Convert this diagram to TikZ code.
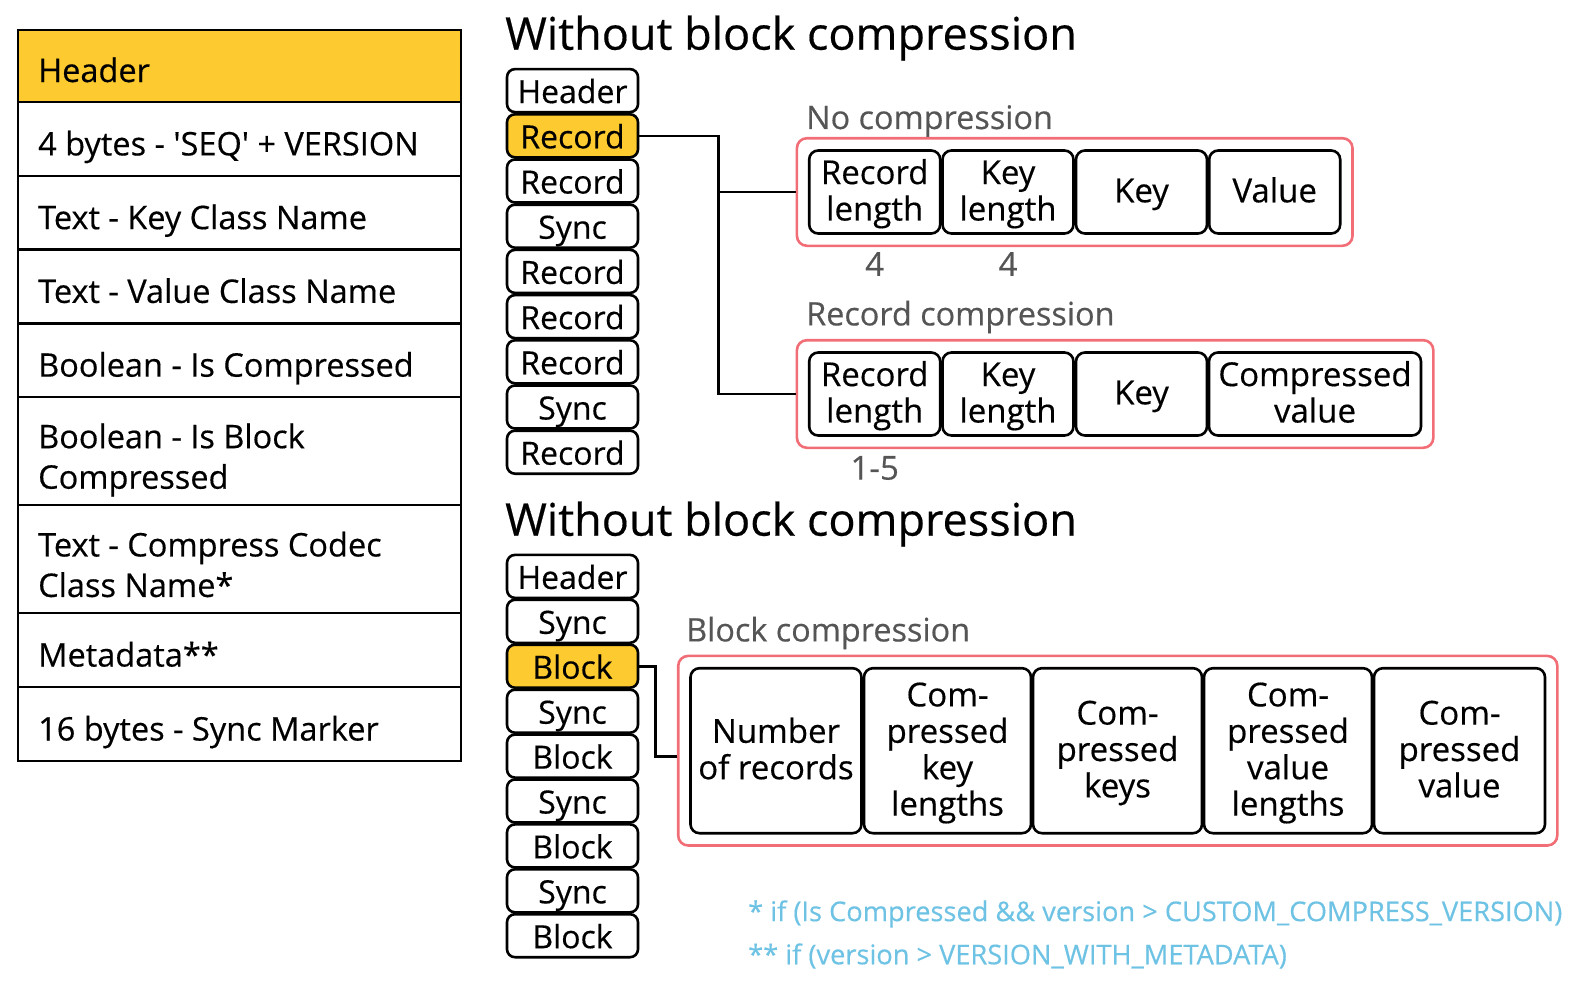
\documentclass[tikz,border=0pt]{standalone}
\usepackage{fontspec}
\setmainfont{Open Sans}[Ligatures=TeXOff, FakeBold=0.4]
\usetikzlibrary{positioning,fit}
\definecolor{hdr}{HTML}{FDCA2F}
\definecolor{pinkc}{HTML}{F26E76}
\definecolor{greyc}{HTML}{555555}
\definecolor{bluec}{HTML}{6EC2E4}
\tikzset{
  rowbox/.style={draw=black, line width=2.6pt, minimum width=443pt, inner sep=0pt, outer sep=0pt, anchor=north},
  rowtext/.style={anchor=base west, inner sep=0pt, font=\fontsize{32.5}{40.5}\selectfont},
  rowtexttwo/.style={anchor=west, inner sep=0pt, align=left, font=\fontsize{32.5}{40.5}\selectfont},
  cellbox/.style={draw=black, line width=2.6pt, rounded corners=8pt, minimum width=131pt, minimum height=43pt, inner sep=0pt, text height=25pt, text depth=0pt, font=\fontsize{32}{35}\selectfont},
  fieldbox/.style={draw=black, line width=2.6pt, rounded corners=9pt, inner sep=0pt},
  ftext/.style={align=center, inner sep=0pt, yshift=-3pt, font=\fontsize{33}{36.4}\selectfont},
  groupbox/.style={draw=pinkc, line width=2.6pt, rounded corners=10pt, inner sep=11pt},
  title/.style={anchor=west, inner sep=0pt, font=\fontsize{45}{50}\selectfont},
  sublabel/.style={anchor=west, inner sep=0pt, text=greyc, font=\fontsize{32.4}{38}\selectfont},
  numlabel/.style={inner sep=0pt, text=greyc, font=\fontsize{33}{38}\selectfont},
  note/.style={anchor=west, inner sep=0pt, text=bluec, font=\fontsize{27.2}{32}\selectfont},
  link/.style={line width=2.6pt, draw=black},
  hl/.style={fill=hdr}
}
\begin{document}
\begin{tikzpicture}[x=1pt,y=-1pt]
\useasboundingbox (0,0) rectangle (1584,998);
% ---- left table ----
\node[rowbox, hl, minimum height=72pt] (h0) at (239.5,30) {};
\node[rowbox, minimum height=73.8pt] (h1) at (h0.south) {};
\node[rowbox, minimum height=73.7pt] (h2) at (h1.south) {};
\node[rowbox, minimum height=73.8pt] (h3) at (h2.south) {};
\node[rowbox, minimum height=73.7pt] (h4) at (h3.south) {};
\node[rowbox, minimum height=108pt] (h5) at (h4.south) {};
\node[rowbox, minimum height=108pt] (h6) at (h5.south) {};
\node[rowbox, minimum height=74pt] (h7) at (h6.south) {};
\node[rowbox, minimum height=74pt] (h8) at (h7.south) {};
\node[rowtext] (x0) at ([xshift=20pt,yshift=-16pt]h0.west) {Header};
\node[rowtext] (x1) at ([xshift=20pt,yshift=-16.5pt]h1.west) {4 bytes - 'SEQ' + VERSION};
\node[rowtext] (x2) at ([xshift=20pt,yshift=-16.5pt]h2.west) {Text - Key Class Name};
\node[rowtext] (x3) at ([xshift=20pt,yshift=-16.5pt]h3.west) {Text - Value Class Name};
\node[rowtext] (x4) at ([xshift=20pt,yshift=-16.5pt]h4.west) {Boolean - Is Compressed};
\node[rowtexttwo] (x5) at ([xshift=20pt,yshift=-9pt]h5.west) {Boolean - Is Block\\Compressed};
\node[rowtexttwo] (x6) at ([xshift=20pt,yshift=-5.5pt]h6.west) {Text - Compress Codec\\Class Name*};
\node[rowtext] (x7) at ([xshift=20pt,yshift=-16.5pt]h7.west) {Metadata**};
\node[rowtext] (x8) at ([xshift=20pt,yshift=-16.5pt]h8.west) {16 bytes - Sync Marker};
% ---- titles ----
\node[title] (t1) at (505,38) {Without block compression};
\node[title] (t2) at (505,524) {Without block compression};
% ---- top column ----
\node[cellbox] (a0) at (572.5,90.6) {Header};
\node[cellbox, hl] (a1) at (572.5,135.8) {Record};
\node[cellbox] (a2) at (572.5,181) {Record};
\node[cellbox] (a3) at (572.5,226.2) {Sync};
\node[cellbox] (a4) at (572.5,271.4) {Record};
\node[cellbox] (a5) at (572.5,316.6) {Record};
\node[cellbox] (a6) at (572.5,361.8) {Record};
\node[cellbox] (a7) at (572.5,407) {Sync};
\node[cellbox] (a8) at (572.5,452.2) {Record};
% ---- bottom column ----
\node[cellbox] (b0) at (572.5,576.4) {Header};
\node[cellbox] (b1) at (572.5,621.3) {Sync};
\node[cellbox, hl] (b2) at (572.5,666.2) {Block};
\node[cellbox] (b3) at (572.5,711.2) {Sync};
\node[cellbox] (b4) at (572.5,756.1) {Block};
\node[cellbox] (b5) at (572.5,801) {Sync};
\node[cellbox] (b6) at (572.5,845.9) {Block};
\node[cellbox] (b7) at (572.5,890.8) {Sync};
\node[cellbox] (b8) at (572.5,935.7) {Block};
% ---- no compression ----
\node[sublabel] (l1) at (806,121) {No compression};
\node[fieldbox, minimum width=131pt, minimum height=83pt, label={[ftext]center:{\strut Record\\length\strut}}] (n1) at (874.7,192) {};
\node[fieldbox, minimum width=131pt, minimum height=83pt, label={[ftext]center:{\strut Key\\length\strut}}] (n2) at (1008,192) {};
\node[fieldbox, minimum width=131pt, minimum height=83pt, label={[ftext]center:{\strut Key}}] (n3) at (1141.5,192) {};
\node[fieldbox, minimum width=131pt, minimum height=83pt, label={[ftext]center:{\strut Value}}] (n4) at (1274.7,192) {};
\node[groupbox, fit=(n1)(n4)] (p1) {};
\node[numlabel] (c1) at (874.7,264) {4};
\node[numlabel] (c2) at (1008,264) {4};
% ---- record compression ----
\node[sublabel] (l2) at (806,317) {Record compression};
\node[fieldbox, minimum width=131pt, minimum height=83pt, label={[ftext]center:{\strut Record\\length\strut}}] (r1) at (874.7,394) {};
\node[fieldbox, minimum width=131pt, minimum height=83pt, label={[ftext]center:{\strut Key\\length\strut}}] (r2) at (1008,394) {};
\node[fieldbox, minimum width=131pt, minimum height=83pt, label={[ftext]center:{\strut Key}}] (r3) at (1141.5,394) {};
\node[fieldbox, minimum width=212pt, minimum height=83pt, label={[ftext]center:{\strut Compressed\\value\strut}}] (r4) at (1315,394) {};
\node[groupbox, fit=(r1)(r4)] (p2) {};
\node[numlabel] (c3) at (874.7,468) {1-5};
% ---- block compression ----
\node[sublabel] (l3) at (686,633) {Block compression};
\node[fieldbox, minimum width=171pt, minimum height=165pt, label={[ftext]center:{\strut Number\\of records\strut}}] (k1) at (776,750.7) {};
\node[fieldbox, minimum width=167pt, minimum height=165pt, label={[ftext]center:{\strut Com-\\pressed\\key\\lengths\strut}}] (k2) at (947.5,750.7) {};
\node[fieldbox, minimum width=169pt, minimum height=165pt, label={[ftext]center:{\strut Com-\\pressed\\keys\strut}}] (k3) at (1117.5,750.7) {};
\node[fieldbox, minimum width=168pt, minimum height=165pt, label={[ftext]center:{\strut Com-\\pressed\\value\\lengths\strut}}] (k4) at (1288,750.7) {};
\node[fieldbox, minimum width=171pt, minimum height=165pt, label={[ftext]center:{\strut Com-\\pressed\\value\strut}}] (k5) at (1459.5,750.7) {};
\node[groupbox, fit=(k1)(k5)] (p3) {};
% ---- footnotes ----
\node[note] (f1) at (748,914) {* if (Is Compressed \&\& version > CUSTOM\_COMPRESS\_VERSION)};
\node[note] (f2) at (748,956) {** if (version > VERSION\_WITH\_METADATA)};
% ---- connectors ----
\draw[link] (a1.east) -- ++(79pt,0) coordinate (j1) |- (p2.west);
\draw[link] (j1 |- p1.west) -- (p1.west);
\draw[link] (b2.east) -- ++(16pt,0) |- ([yshift=-6pt]p3.west);
\end{tikzpicture}
\end{document}
